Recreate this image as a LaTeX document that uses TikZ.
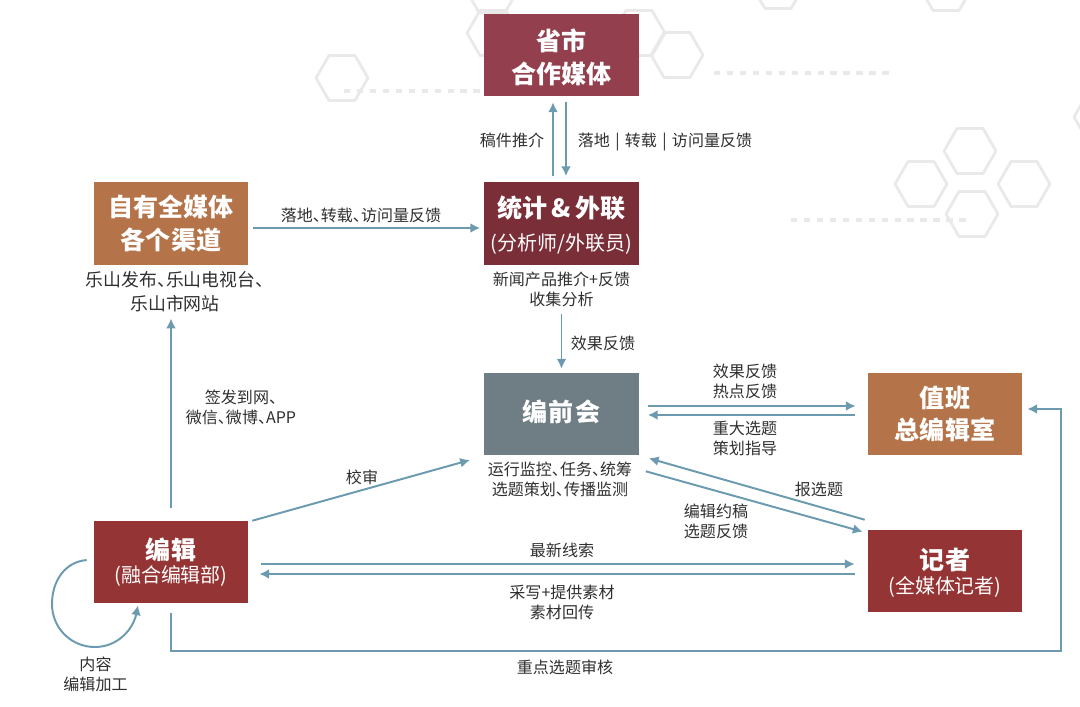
\documentclass[tikz,border=0pt]{standalone}
\usepackage{fontspec}
\setmainfont{Noto Sans CJK SC}
\usetikzlibrary{arrows.meta}
\definecolor{wine}{HTML}{943F4E}
\definecolor{darkwine}{HTML}{7A2E38}
\definecolor{brick}{HTML}{943434}
\definecolor{ochre}{HTML}{B5734A}
\definecolor{slate}{HTML}{6F7E85}
\definecolor{flowblue}{HTML}{6C9BB0}
\definecolor{hexgrey}{HTML}{E9E9E9}
\definecolor{labgrey}{HTML}{2F2F2F}
\tikzset{
  box/.style={fill=#1,text=white,minimum width=3.85cm,minimum height=2.05cm,align=center,inner sep=0pt,
    font=\fontsize{17.8}{23.4}\selectfont\bfseries},
  flow/.style={draw=flowblue,line width=1.4pt,-{Latex[length=7pt,width=7pt]}},
  lab/.style={text=labgrey,align=center,inner sep=0pt,font=\fontsize{11.4}{14.2}\selectfont},
  hexline/.style={draw=hexgrey,line width=2pt,line join=round},
  dashline/.style={draw=hexgrey,line width=2.8pt,dash pattern=on 4.6pt off 4.6pt}
}
\newcommand{\subline}[1]{{\fontsize{14.2}{18}\selectfont\mdseries #1}}
\newcommand{\dun}{、\kern-0.5em}
\newcommand{\nudge}[2]{\raisebox{#1}[\height][\depth]{#2}}
\begin{document}
\begin{tikzpicture}[x=0.025cm,y=-0.025cm]
\useasboundingbox (0,0) rectangle (1080,706);
\begin{scope}
\clip (0,0) rectangle (1080,706);
\foreach \hx/\hy in {342/78,493/33,492/-10,639/33,677/55,778/-14,946/-12,970/151,921/184,1024/184,972/214,1100/117}
  \draw[hexline] (\hx,\hy) ++(26,0) -- ++(-13,22.5) -- ++(-26,0) -- ++(-13,-22.5) -- ++(13,-22.5) -- ++(26,0) -- cycle;
\draw[dashline] (344,91) -- (485,91);
\draw[dashline] (714,73) -- (892,73);
\draw[dashline] (791,220) -- (970,220);
\end{scope}
\node[box=wine] (shengshi) at (561.5,55) {\nudge{-1.4pt}{省市}\\\nudge{-1.4pt}{合作媒体}};
\node[box=darkwine] (tongji) at (561.5,223.5) {\nudge{-1.4pt}{统计\,\&\,外联}\\[.3pt]\nudge{-.7pt}{\subline{(分析师/外联员)}}};
\node[box=ochre] (ziyou) at (171,223.5) {自有全媒体\\各个渠道};
\node[box=slate] (bianqian) at (561.5,414) {\nudge{1.4pt}{编\kern1pt 前\kern1pt 会}};
\node[box=ochre] (zhiban) at (945,414) {值班\\总编辑室};
\node[box=brick] (bianji) at (171,562) {编辑\\[-7.2pt]\subline{(融合编辑部)}};
\node[box=brick] (jizhe) at (945,571) {\nudge{-1.4pt}{记者}\\[-6.5pt]\nudge{-1.4pt}{\subline{(全媒体记者)}}};
\node[lab] (gaojian) at (512,140) {稿件推介};
\node[lab] (luodi) at (665,140) {落地\,\,\smash{|}\,\,转载\,\,\smash{|}\,\,访问量反馈};
\node[lab] (zhuanzai) at (361,215) {落地\dun 转载\dun 访问量反馈};
\node[lab] (tongjinote) at (561.5,289) {新闻产品推介+反馈\\收集分析};
\node[lab,font=\fontsize{12.7}{17}\selectfont] (ziyounote) at (175,292) {乐山发布\dun 乐山电视台\dun\\乐山市网站};
\node[lab] (xiaoguo) at (603,343) {效果反馈};
\node[lab] (redian) at (745,381) {效果反馈\\热点反馈};
\node[lab] (zhongda) at (745,438) {重大选题\\策划指导};
\node[lab] (bianqiannote) at (560,479) {运行监控\dun 任务\dun 统筹\\选题策划\dun 传播监测};
\node[lab] (baoxuan) at (819,489) {报选题};
\node[lab] (yuegao) at (716,521) {编辑约稿\\选题反馈};
\node[lab] (zuixin) at (562,550) {最新线索};
\node[lab] (caixie) at (562,602) {采写+提供素材\\素材回传};
\node[lab] (xiaoshen) at (362,477) {校审};
\node[lab] (qianfa) at (241,407) {签发到网\dun\\微信\dun 微博\dun APP};
\node[lab] (neirong) at (95.5,674) {内容\\编辑加工};
\node[lab] (zhongdian) at (565,667) {重点选题审核};
\coordinate (shenend) at (470,460);
\coordinate (lowleft) at (171,651);
\coordinate (lowright) at (1061,651);
\coordinate (upright) at (1061,409);
\draw[flow] ([shift={(-8.5,-6)}]tongji.north) -- ([shift={(-8.5,6)}]shengshi.south);
\draw[flow] ([shift={(4.5,6)}]shengshi.south) -- ([shift={(4.5,-6)}]tongji.north);
\draw[flow] ([shift={(5,4.5)}]ziyou.east) -- ([shift={(-4,4.5)}]tongji.west);
\draw[flow] ([shift={(0,7)}]tongjinote.south) -- ([shift={(0,-4)}]bianqian.north);
\draw[flow] ([shift={(0,-13)}]bianji.north) -- ([shift={(-4,6)}]ziyounote.south);
\draw[flow] ([shift={(4,0)}]bianji.north east) -- (shenend);
\draw[flow] ([shift={(9,-8)}]bianqian.east) -- ([shift={(-12,-8)}]zhiban.west);
\draw[flow] ([shift={(-13,1)}]zhiban.west) -- ([shift={(9,1)}]bianqian.east);
\draw[flow] ([shift={(-3,-10)}]jizhe.north west) -- ([shift={(10,3)}]bianqian.south east);
\draw[flow] ([shift={(7,16)}]bianqian.south east) -- ([shift={(-5,2)}]jizhe.north west);
\draw[flow] ([shift={(13,2)}]bianji.east) -- ([shift={(-13,-7)}]jizhe.west);
\draw[flow] ([shift={(-13,3)}]jizhe.west) -- ([shift={(11,12)}]bianji.east);
\draw[flow] ([shift={(0,10)}]bianji.south) -- (lowleft) -- (lowright) -- (upright) -- ([shift={(5,-5)}]zhiban.east);
\draw[flow] ([shift={(-7,-2)}]bianji.west) .. controls (64,562) and (52,582) .. (52,604) .. controls (52,628) and (71,647) .. (95,647) .. controls (117,647) and (133,630) .. ([shift={(-33,2)}]bianji.south);
\end{tikzpicture}
\end{document}
